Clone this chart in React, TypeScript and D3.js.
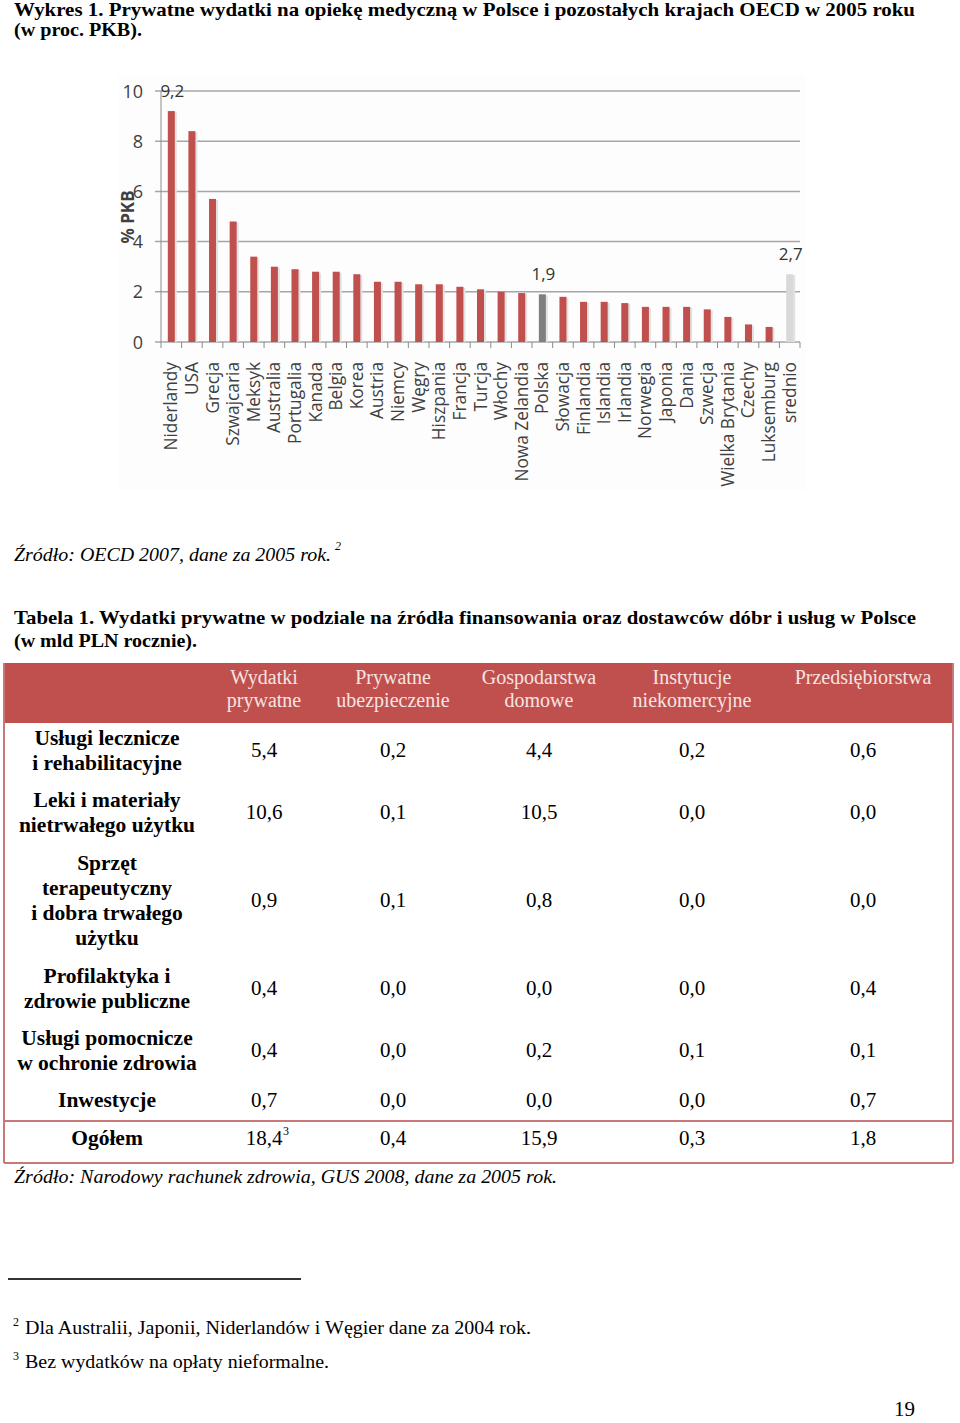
import React from 'react';
import * as d3 from 'd3';

// ---------- chart data ----------
const countries = [
  'Niderlandy', 'USA', 'Grecja', 'Szwajcaria', 'Meksyk', 'Australia', 'Portugalia', 'Kanada',
  'Belgia', 'Korea', 'Austria', 'Niemcy', 'Węgry', 'Hiszpania', 'Francja', 'Turcja', 'Włochy',
  'Nowa Zelandia', 'Polska', 'Słowacja', 'Finlandia', 'Islandia', 'Irlandia', 'Norwegia',
  'Japonia', 'Dania', 'Szwecja', 'Wielka Brytania', 'Czechy', 'Luksemburg', 'srednio',
];
const privateSpending = [
  9.2, 8.4, 5.7, 4.8, 3.4, 3.0, 2.9, 2.8, 2.8, 2.7, 2.4, 2.4, 2.3, 2.3, 2.2, 2.1, 2.0,
  1.95, 1.9, 1.8, 1.6, 1.6, 1.55, 1.4, 1.4, 1.4, 1.3, 1.0, 0.7, 0.6, 2.7,
];
const yTicks = [0, 2, 4, 6, 8, 10];
const labelCountries = ['Niderlandy', 'Polska', 'srednio'];
const labelTexts = ['9,2', '1,9', '2,7'];

// ---------- table data ----------
const colHeaders = [
  ['Wydatki', 'prywatne'],
  ['Prywatne', 'ubezpieczenie'],
  ['Gospodarstwa', 'domowe'],
  ['Instytucje', 'niekomercyjne'],
  ['Przedsiębiorstwa'],
];
const rowLabels = [
  ['Usługi lecznicze', 'i rehabilitacyjne'],
  ['Leki i materiały', 'nietrwałego użytku'],
  ['Sprzęt', 'terapeutyczny', 'i dobra trwałego', 'użytku'],
  ['Profilaktyka i', 'zdrowie publiczne'],
  ['Usługi pomocnicze', 'w ochronie zdrowia'],
  ['Inwestycje'],
  ['Ogółem'],
];
const colWydatki = ['5,4', '10,6', '0,9', '0,4', '0,4', '0,7', '18,4'];
const colUbezp = ['0,2', '0,1', '0,1', '0,0', '0,0', '0,0', '0,4'];
const colGosp = ['4,4', '10,5', '0,8', '0,0', '0,2', '0,0', '15,9'];
const colInst = ['0,2', '0,0', '0,0', '0,0', '0,1', '0,0', '0,3'];
const colPrzeds = ['0,6', '0,0', '0,0', '0,4', '0,1', '0,7', '1,8'];

const RED = '#c0504d';
const SERIF = '"Liberation Serif", "Times New Roman", serif';
const SANS = '"Open Sans", "Noto Sans", sans-serif';

export default function App() {
  const x = d3.scaleBand<string>().domain(countries).range([161, 800]).paddingInner(0.66).paddingOuter(0.33);
  const step = x.step();
  const y = d3.scaleLinear().domain([0, 10]).range([342, 91]);

  const barColor = (c: string) => (c === 'Polska' ? '#7f7f7f' : c === 'srednio' ? '#d9d9d9' : RED);

  const tableCols = [colWydatki, colUbezp, colGosp, colInst, colPrzeds];
  const colX = [264, 393, 539, 692, 863];
  const rowY = [750, 812, 900, 988, 1050, 1100, 1138];
  const lineH = 25;

  return (
    <svg width={960} height={1423} style={{ position: 'absolute', left: 0, top: 0, background: '#fff' }}>
      {/* Title */}
      <g fontFamily={SERIF} fontWeight="bold" fontSize={19} fill="#000">
        <text x={14} y={16} textLength={901} lengthAdjust="spacingAndGlyphs">
          Wykres 1. Prywatne wydatki na opiekę medyczną w Polsce i pozostałych krajach OECD w 2005 roku
        </text>
        <text x={14} y={36} textLength={128} lengthAdjust="spacingAndGlyphs">(w proc. PKB).</text>
      </g>

      {/* Chart */}
      <rect x={118} y={75} width={688} height={415} fill="#fdfdfd" />
      <g>
        {yTicks.map((t) => (
          <line key={'g' + t} x1={155} x2={800} y1={y(t)} y2={y(t)} stroke="#a6a6a6" strokeWidth={1.5} />
        ))}
        <line x1={161} x2={161} y1={91} y2={342} stroke="#8c8c8c" strokeWidth={1} />
        {countries.map((c, i) => (
          <line key={'t' + c} x1={161 + step * (i + 1)} x2={161 + step * (i + 1)} y1={342} y2={348} stroke="#8c8c8c" strokeWidth={1} />
        ))}
        <line x1={161} x2={161} y1={342} y2={348} stroke="#8c8c8c" strokeWidth={1} />
        {yTicks.map((t) => (
          <text key={'yl' + t} x={143} y={y(t) + 6.5} textAnchor="end" fontFamily={SANS} fontSize={18} fill="#404040">
            {t}
          </text>
        ))}
        <text
          transform={`translate(134,217) rotate(-90)`}
          textAnchor="middle"
          fontFamily={SANS}
          fontWeight="bold"
          fontSize={17}
          fill="#404040"
        >
          % PKB
        </text>
        {countries.map((c, i) => (
          <g key={'b' + c}>
            <rect x={(x(c) as number) + 2} y={y(privateSpending[i]) + 1} width={x.bandwidth()} height={342 - y(privateSpending[i]) - 1} fill="#e2e2e2" />
            <rect x={x(c)} y={y(privateSpending[i])} width={x.bandwidth()} height={342 - y(privateSpending[i])} fill={barColor(c)} />
          </g>
        ))}
        {labelCountries.map((c, k) => {
          const i = countries.indexOf(c);
          return (
            <text key={'dl' + c} x={(x(c) as number) + x.bandwidth() / 2 + 1} y={y(privateSpending[i]) - 14} textAnchor="middle" fontFamily={SANS} fontSize={17} fill="#333">
              {labelTexts[k]}
            </text>
          );
        })}
        {countries.map((c) => (
          <text
            key={'xl' + c}
            transform={`translate(${(x(c) as number) + x.bandwidth() / 2 + 6},362) rotate(-90)`}
            textAnchor="end"
            fontFamily={SANS}
            fontSize={17.3}
            fill="#404040"
          >
            {c}
          </text>
        ))}
      </g>

      {/* Chart source */}
      <text x={14} y={561} fontFamily={SERIF} fontStyle="italic" fontSize={19} fill="#000" textLength={317} lengthAdjust="spacingAndGlyphs">
        Źródło: OECD 2007, dane za 2005 rok.
      </text>
      <text x={335} y={550} fontFamily={SERIF} fontStyle="italic" fontSize={12} fill="#000">2</text>

      {/* Table title */}
      <g fontFamily={SERIF} fontWeight="bold" fontSize={19} fill="#000">
        <text x={14} y={624} textLength={902} lengthAdjust="spacingAndGlyphs">
          Tabela 1. Wydatki prywatne w podziale na źródła finansowania oraz dostawców dóbr i usług w Polsce
        </text>
        <text x={14} y={647} textLength={183} lengthAdjust="spacingAndGlyphs">(w mld PLN rocznie).</text>
      </g>

      {/* Table */}
      <rect x={4} y={663} width={949} height={60} fill={RED} />
      {colHeaders.map((h, j) =>
        h.map((line, l) => (
          <text key={'h' + j + l} x={colX[j]} y={684 + l * 23} textAnchor="middle" fontFamily={SERIF} fontSize={20} fill="#f6e4e3">
            {line}
          </text>
        ))
      )}
      <line x1={4} x2={4} y1={663} y2={1163} stroke="#c9787a" strokeWidth={2} />
      <line x1={953} x2={953} y1={663} y2={1163} stroke="#c9787a" strokeWidth={2} />
      <line x1={4} x2={953} y1={1121} y2={1121} stroke="#c9787a" strokeWidth={2} />
      <line x1={4} x2={953} y1={1163} y2={1163} stroke="#c9787a" strokeWidth={2} />

      {rowLabels.map((lines, r) => {
        const n = lines.length;
        return lines.map((ln, l) => (
          <text
            key={'r' + r + l}
            x={107}
            y={rowY[r] + 7 + (l - (n - 1) / 2) * lineH}
            textAnchor="middle"
            fontFamily={SERIF}
            fontWeight="bold"
            fontSize={21.5}
            fill="#000"
          >
            {ln}
          </text>
        ));
      })}
      {tableCols.map((col, j) =>
        col.map((v, r) => (
          <text key={'v' + j + r} x={colX[j]} y={rowY[r] + 7} textAnchor="middle" fontFamily={SERIF} fontSize={21} fill="#000">
            {v}
          </text>
        ))
      )}
      <text x={283} y={1135} fontFamily={SERIF} fontSize={12} fill="#000">3</text>

      {/* Table source */}
      <text x={14} y={1183} fontFamily={SERIF} fontStyle="italic" fontSize={19} fill="#000" textLength={543} lengthAdjust="spacingAndGlyphs">
        Źródło: Narodowy rachunek zdrowia, GUS 2008, dane za 2005 rok.
      </text>

      {/* Footnotes */}
      <line x1={8} x2={301} y1={1279} y2={1279} stroke="#333" strokeWidth={2} />
      <text x={13} y={1326} fontFamily={SERIF} fontSize={12} fill="#000">2</text>
      <text x={25} y={1334} fontFamily={SERIF} fontSize={19} fill="#000" textLength={506} lengthAdjust="spacingAndGlyphs">
        Dla Australii, Japonii, Niderlandów i Węgier dane za 2004 rok.
      </text>
      <text x={13} y={1360} fontFamily={SERIF} fontSize={12} fill="#000">3</text>
      <text x={25} y={1368} fontFamily={SERIF} fontSize={19} fill="#000" textLength={304} lengthAdjust="spacingAndGlyphs">
        Bez wydatków na opłaty nieformalne.
      </text>
      <text x={915} y={1416} textAnchor="end" fontFamily={SERIF} fontSize={21} fill="#000">19</text>
    </svg>
  );
}
